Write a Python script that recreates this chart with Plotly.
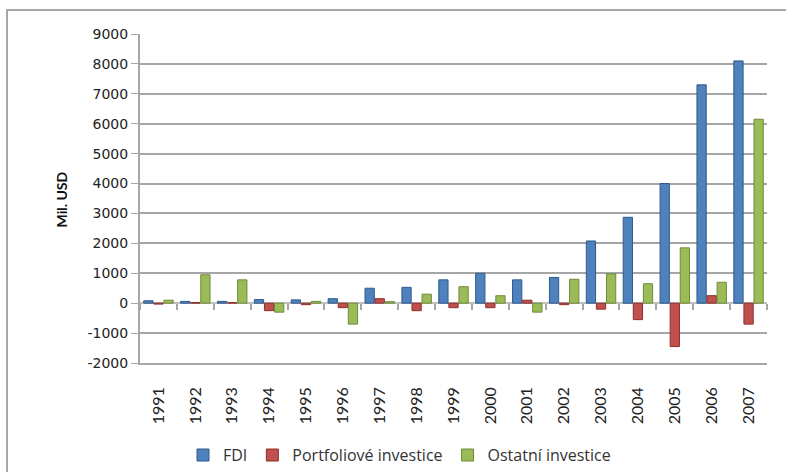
import plotly.graph_objects as go

# Capital flows by year, in millions of USD
years = ["1991", "1992", "1993", "1994", "1995", "1996", "1997", "1998", "1999",
         "2000", "2001", "2002", "2003", "2004", "2005", "2006", "2007"]
fdi = [80, 60, 60, 120, 110, 150, 500, 530, 780, 1000, 780, 860, 2080, 2870, 4000, 7300, 8100]
portfolio = [-30, 20, 20, -250, -50, -150, 150, -250, -150, -150, 100, -50, -200, -550, -1450, 250, -700]
other = [100, 950, 780, -300, 60, -700, 50, 300, 550, 250, -300, 800, 980, 650, 1850, 700, 6150]

series_names = ["FDI", "Portfoliové investice", "Ostatní investice"]
series_values = [fdi, portfolio, other]
fill_colors = ["#4F81BD", "#C0504D", "#9BBB59"]
edge_colors = ["#2F5A8C", "#8C2E2B", "#6E8A38"]

y_ticks = list(range(-2000, 9001, 1000))

fig = go.Figure()
for name, vals, fc, ec in zip(series_names, series_values, fill_colors, edge_colors):
    fig.add_trace(go.Bar(
        x=years, y=vals, name=name,
        marker=dict(color=fc, line=dict(color=ec, width=1)),
    ))

# invisible trace so the zero-level tick axis is drawn
fig.add_trace(go.Scatter(x=years, y=[0] * len(years), xaxis="x2",
                         showlegend=False, hoverinfo="skip", mode="markers",
                         marker=dict(opacity=0)))

year_font = dict(family="Lato, Open Sans, sans-serif", size=16, color="#222222")
legend_font = dict(family="Open Sans, Lato, sans-serif", size=16, color="#333333")

fig.update_layout(
    width=786, height=472,
    margin=dict(l=140, r=19, t=34, b=109, autoexpand=False),
    paper_bgcolor="white", plot_bgcolor="white",
    barmode="group", bargap=0.18, bargroupgap=0.08,
    showlegend=True,
    legend=dict(orientation="h", x=(183 - 140) / 627, xanchor="left", y=-0.28, yanchor="middle",
                font=legend_font, itemwidth=30, traceorder="normal"),
    xaxis=dict(
        type="category", range=[-0.5, 16.5],
        tickangle=-90, tickfont=year_font, ticklabelstandoff=16,
        showline=True, linecolor="#a6a6a6", linewidth=1.5,
        ticks="", showgrid=False, zeroline=False,
    ),
    xaxis2=dict(
        type="category", range=[-0.5, 16.5], overlaying="x",
        anchor="free", position=2000 / 11000, side="bottom",
        tickson="boundaries", ticks="outside", ticklen=6, tickcolor="#a6a6a6",
        tickwidth=1.5,
        showticklabels=False, showline=False, showgrid=False, zeroline=False,
    ),
    yaxis=dict(
        range=[-2000, 9000], tickvals=y_ticks, ticktext=[str(v) for v in y_ticks],
        tickfont=dict(family="DejaVu Sans, Verdana, sans-serif", size=14, color="#222222"),
        showline=True, linecolor="#a6a6a6", linewidth=2,
        ticks="outside", ticklen=7, tickcolor="#a6a6a6",
        showgrid=True, gridcolor="#a6a6a6", gridwidth=1.5,
        zeroline=True, zerolinecolor="#bfbfbf", zerolinewidth=1.5,
    ),
    shapes=[dict(type="rect", xref="paper", yref="paper",
                 x0=(7 - 140) / 627, x1=1.2, y0=-0.6, y1=(363 - 10) / 329,
                 line=dict(color="#8c8c8c", width=1.5), layer="below")],
    annotations=[dict(text="<b>Mil. USD</b>", xref="paper", yref="paper",
                      x=(50 - 140) / 627, y=(363 - 200) / 329, textangle=-90,
                      showarrow=False,
                      font=dict(family="Lato, Open Sans, sans-serif", size=14, color="#111111"))],
)

fig.write_html("out.html")
